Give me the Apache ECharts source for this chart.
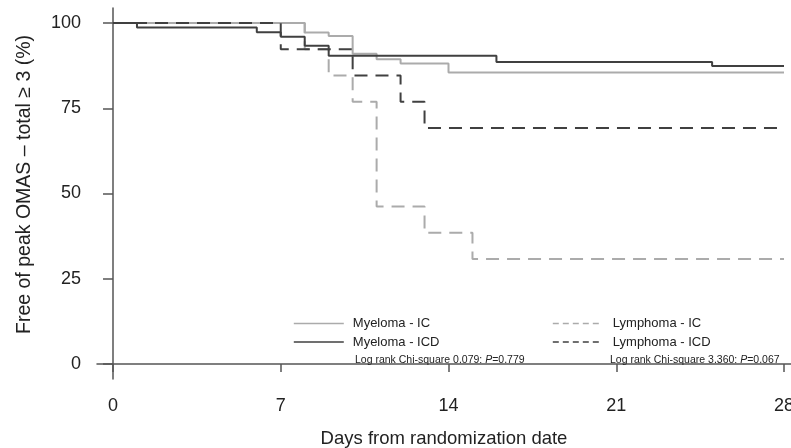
<!DOCTYPE html>
<html>
<head>
<meta charset="utf-8">
<script src="https://cdn.jsdelivr.net/npm/echarts@6/dist/echarts.min.js"></script>
<style>
  html, body { margin: 0; padding: 0; background: #fff; }
  #chart { width: 791px; height: 448px; }
</style>
</head>
<body>
<div id="chart"></div>
<script>
// Kaplan-Meier steps (days, % free)
const myelomaIcDays = [0, 8, 9, 10, 11, 12, 14, 28]
const myelomaIcSurv = [100, 97.2, 96.2, 91.0, 89.4, 88.1, 85.5, 85.5]
const myelomaIcdDays = [0, 1, 6, 7, 8, 9, 16, 25, 28]
const myelomaIcdSurv = [100, 98.7, 97.3, 96.0, 93.3, 90.4, 88.6, 87.4, 87.4]
const lymphomaIcDays = [0, 8, 9, 10, 11, 13, 15, 28]
const lymphomaIcSurv = [100, 92.3, 84.6, 76.9, 46.2, 38.5, 30.8, 30.8]
const lymphomaIcdDays = [0, 7, 10, 12, 13, 28]
const lymphomaIcdSurv = [100, 92.3, 84.6, 76.9, 69.2, 69.2]

const xTicks = [0, 7, 14, 21, 28]
const yTicks = [0, 25, 50, 75, 100]

const seriesNames = ['Myeloma - IC', 'Myeloma - ICD', 'Lymphoma - IC', 'Lymphoma - ICD']
const logRankMyeloma = 'Log rank Chi-square 0.079: {i|P}=0.779'
const logRankLymphoma = 'Log rank Chi-square 3.360: {i|P}=0.067'

const LIGHT = '#ababab'
const DARK = '#404040'
const FONT = '"Liberation Sans", Arial, Helvetica, sans-serif'

const pairs = (xs, ys) => xs.map((x, i) => [x, ys[i]])

const stepLine = (name, xs, ys, color, dashed) => ({
  name,
  type: 'line',
  step: 'end',
  symbol: 'none',
  data: pairs(xs, ys),
  lineStyle: { color, width: 2, type: dashed ? [13, 8] : 'solid' },
  itemStyle: { color },
  emphasis: { disabled: true }
})

const logRankTitle = (text, left) => ({
  text,
  left,
  top: 355,
  padding: 0,
  textStyle: {
    fontSize: 10.5, fontWeight: 'normal', color: '#222', fontFamily: FONT,
    rich: { i: { fontSize: 10.5, fontStyle: 'italic', color: '#222', fontFamily: FONT } }
  }
})

const chart = echarts.init(document.getElementById('chart'))

chart.setOption({
  animation: false,
  backgroundColor: '#fff',
  textStyle: { fontFamily: FONT },
  grid: {
    left: 97,
    right: 0,
    top: 8,
    bottom: 69,
    outerBoundsMode: 'none'
  },
  xAxis: {
    type: 'value',
    min: -0.668,
    max: 28.292,
    name: 'Days from randomization date',
    nameLocation: 'middle',
    nameGap: 50,
    nameTextStyle: { fontSize: 18.5, color: '#222', fontFamily: FONT },
    splitLine: { show: false },
    axisLine: { lineStyle: { color: '#555', width: 1.5 } },
    axisTick: { customValues: xTicks, length: 8, lineStyle: { color: '#555', width: 1.5 } },
    axisLabel: { customValues: xTicks, fontSize: 18, color: '#222', margin: 18, fontFamily: FONT }
  },
  yAxis: {
    type: 'value',
    min: -4.4,
    max: 104.4,
    name: 'Free of peak OMAS \u2013 total \u2265 3 (%)',
    nameLocation: 'middle',
    nameGap: 62,
    nameTextStyle: { fontSize: 19.5, color: '#222', fontFamily: FONT, padding: [0, 0, 0, 18] },
    splitLine: { show: false },
    axisLine: { lineStyle: { color: '#555', width: 1.5 } },
    axisTick: { customValues: yTicks, length: 10, lineStyle: { color: '#555', width: 1.5 } },
    axisLabel: { customValues: yTicks, fontSize: 18, color: '#222', margin: 16, fontFamily: FONT }
  },
  legend: [
    {
      data: seriesNames.slice(0, 2),
      orient: 'vertical',
      left: 293,
      top: 317,
      padding: 0,
      itemWidth: 50,
      itemHeight: 14,
      itemGap: 5.5,
      selectedMode: false,
      itemStyle: { color: 'transparent', borderWidth: 0 },
      lineStyle: { width: 1.6 },
      textStyle: { fontSize: 13, color: '#222', fontFamily: FONT, padding: [0, 0, 0, 4] }
    },
    {
      data: seriesNames.slice(2),
      orient: 'vertical',
      left: 552,
      top: 317,
      padding: 0,
      itemWidth: 48,
      itemHeight: 14,
      itemGap: 5.5,
      selectedMode: false,
      itemStyle: { color: 'transparent', borderWidth: 0 },
      lineStyle: { width: 1.6, type: [6, 4] },
      textStyle: { fontSize: 13, color: '#222', fontFamily: FONT, padding: [0, 0, 0, 7] }
    }
  ],
  title: [
    logRankTitle(logRankMyeloma, 355),
    logRankTitle(logRankLymphoma, 610)
  ],
  series: [
    stepLine(seriesNames[0], myelomaIcDays, myelomaIcSurv, LIGHT, false),
    stepLine(seriesNames[2], lymphomaIcDays, lymphomaIcSurv, LIGHT, true),
    stepLine(seriesNames[1], myelomaIcdDays, myelomaIcdSurv, DARK, false),
    stepLine(seriesNames[3], lymphomaIcdDays, lymphomaIcdSurv, DARK, true)
  ]
})
</script>
</body>
</html>
